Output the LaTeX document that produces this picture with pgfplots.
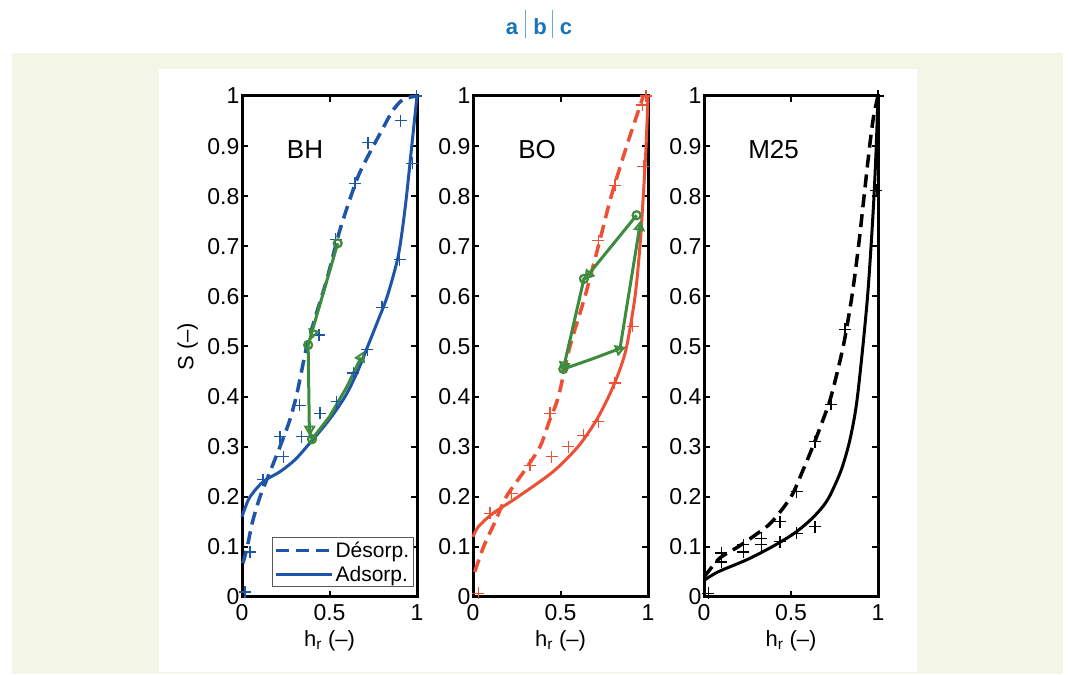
\documentclass[border=0pt]{standalone}
\usepackage{pgfplots}
\pgfplotsset{compat=1.18}
\usepackage{fontspec}
\setmainfont{Liberation Sans}
\definecolor{bggreen}{HTML}{F3F6E7}
\definecolor{ttlblue}{HTML}{1A73B8}
\definecolor{sepblue}{HTML}{6FA8DC}
\definecolor{cblue}{HTML}{1E55A8}
\definecolor{cred}{HTML}{EE5035}
\definecolor{cgreen}{HTML}{3D8B3D}
\pgfplotsset{
 panel/.style={
  scale only axis, height=501pt, anchor=south west,
  xmin=0,xmax=1,ymin=0,ymax=1,
  axis line style={line width=3pt},
  tick style={line width=2pt,black},
  major tick length=6pt, tick align=inside,
  xtick={0,0.5,1}, xticklabels={0,0.5,1},
  ytick={0,0.1,0.2,0.3,0.4,0.5,0.6,0.7,0.8,0.9,1},
  yticklabels={0,0.1,0.2,0.3,0.4,0.5,0.6,0.7,0.8,0.9,1},
  ticklabel style={font=\fontsize{23}{23}\selectfont, inner sep=2.5pt},
  xticklabel style={yshift=-5pt},
  label style={font=\fontsize{22}{22}\selectfont},
  xlabel={h\textsubscript{r} (–)},
  xlabel style={at={(axis description cs:0.5,-0.087)},anchor=center},
  clip=false,
 },
 dsh/.style={line width=3.5pt, dash pattern=on 13pt off 7pt, smooth},
 sld/.style={line width=3pt, smooth},
 pls/.style={only marks, mark=+, mark size=6pt, mark options={line width=1.2pt}},
 grn/.style={cgreen, line width=3pt, mark=none},
 grc/.style={cgreen, only marks, mark=o, mark size=4pt, mark options={line width=2.2pt}},
 grt/.style={cgreen, only marks, mark=triangle, mark size=5pt},
}
\begin{document}
\begin{tikzpicture}[x=1pt,y=1pt]
\fill[white] (0,0) rectangle (1069,675);
\fill[bggreen] (12,1) rectangle (1063,622);
\fill[white] (159,3) rectangle (917,606);
\node[font=\bfseries\fontsize{22}{22}\selectfont, text=ttlblue, anchor=base] at (512,640) {a};
\node[font=\bfseries\fontsize{22}{22}\selectfont, text=ttlblue, anchor=base] at (540,640) {b};
\node[font=\bfseries\fontsize{22}{22}\selectfont, text=ttlblue, anchor=base] at (566,640) {c};
\draw[sepblue, line width=1pt] (525,637) -- (525,665);
\draw[sepblue, line width=1pt] (552,637) -- (552,665);

% ---------- BH ----------
\begin{axis}[panel, at={(242pt,78pt)}, width=175pt,
  ylabel={S (–)},
  ylabel style={at={(axis description cs:-0.31,0.5)},anchor=center},
  legend cell align=left,
  legend image code/.code={\draw[#1] (0pt,0pt) -- (56pt,0pt);},
  legend style={at={(axis cs:0.98,0.02)},anchor=south east, draw=black!65,
    line width=0.8pt, fill=white, font=\fontsize{21}{21}\selectfont,
    inner sep=2pt, row sep=3pt}]
\addplot[cblue, dsh] coordinates {(0.005,0.067)(0.03,0.1)(0.06,0.15)(0.103,0.2)(0.16,0.25)(0.217,0.3)(0.27,0.35)(0.31,0.4)(0.34,0.45)(0.37,0.5)(0.42,0.56)(0.484,0.633)(0.56,0.733)(0.655,0.832)(0.72,0.88)(0.80,0.932)(0.86,0.97)(0.92,0.993)(1.0,1.0)};
\addlegendentry{Désorp.}
\addplot[cblue, sld] coordinates {(0,0.16)(0.015,0.175)(0.046,0.2)(0.12,0.23)(0.217,0.25)(0.3,0.273)(0.37,0.3)(0.49,0.35)(0.589,0.4)(0.66,0.45)(0.718,0.5)(0.775,0.55)(0.83,0.6)(0.888,0.673)(0.915,0.73)(0.94,0.8)(0.97,0.9)(1.0,1.0)};
\addlegendentry{Adsorp.}
\addplot[cblue, pls, forget plot] coordinates {(0.995,1.0)(0.907,0.951)(0.72,0.907)(0.646,0.826)(0.535,0.714)(0.973,0.866)(0.90,0.673)(0.80,0.578)(0.44,0.523)(0.716,0.494)(0.636,0.447)(0.54,0.39)(0.33,0.383)(0.446,0.367)(0.217,0.32)(0.34,0.32)(0.236,0.28)(0.12,0.234)(0.046,0.09)(0.017,0.01)};
\addplot[grn, forget plot] coordinates {(0.547,0.706)(0.378,0.503)(0.385,0.33)(0.40,0.315)(0.5,0.36)(0.6,0.42)(0.68,0.478)};
\addplot[grc, forget plot] coordinates {(0.547,0.706)(0.378,0.503)(0.40,0.315)};
\addplot[grt, mark options={rotate=164, line width=2pt}, forget plot] coordinates {(0.406,0.527)};
\addplot[grt, mark options={rotate=180, line width=2pt}, forget plot] coordinates {(0.387,0.335)};
\addplot[grt, mark options={rotate=-26, line width=2pt}, forget plot] coordinates {(0.68,0.478)};
\node[font=\fontsize{26}{26}\selectfont] at (axis cs:0.36,0.894) {BH};
\end{axis}

% ---------- BO ----------
\begin{axis}[panel, at={(473pt,78pt)}, width=175pt]
\addplot[cred, dsh] coordinates {(0.01,0.05)(0.06,0.1)(0.126,0.15)(0.19,0.2)(0.29,0.25)(0.383,0.3)(0.435,0.35)(0.488,0.4)(0.554,0.5)(0.64,0.6)(0.716,0.7)(0.79,0.8)(0.878,0.9)(0.935,0.96)(0.973,1.0)};
\addplot[cred, sld] coordinates {(0,0.12)(0.03,0.14)(0.114,0.167)(0.257,0.2)(0.457,0.25)(0.60,0.3)(0.70,0.35)(0.775,0.4)(0.835,0.45)(0.878,0.5)(0.926,0.6)(0.954,0.7)(0.973,0.8)(0.989,0.9)(1.0,1.0)};
\addplot[cred, pls] coordinates {(0.989,1.0)(0.968,0.982)(0.973,0.86)(0.811,0.822)(0.716,0.711)(0.913,0.54)(0.81,0.427)(0.716,0.35)(0.63,0.323)(0.545,0.30)(0.44,0.367)(0.45,0.28)(0.326,0.263)(0.221,0.207)(0.097,0.167)(0.03,0.007)};
\addplot[grn] coordinates {(0.935,0.762)(0.665,0.646)(0.634,0.635)(0.516,0.455)(0.68,0.475)(0.84,0.496)(0.954,0.742)};
\addplot[grc] coordinates {(0.935,0.762)(0.634,0.635)(0.516,0.455)};
\addplot[grt, mark options={rotate=141, line width=2pt}] coordinates {(0.66,0.643)};
\addplot[grt, mark options={rotate=167, line width=2pt}] coordinates {(0.52,0.462)};
\addplot[grt, mark options={rotate=-70, line width=2pt}] coordinates {(0.835,0.494)};
\addplot[grt, mark options={rotate=-9, line width=2pt}] coordinates {(0.952,0.738)};
\node[font=\fontsize{26}{26}\selectfont] at (axis cs:0.366,0.894) {BO};
\end{axis}

% ---------- M25 ----------
\begin{axis}[panel, at={(704pt,78pt)}, width=174pt]
\addplot[black, dsh] coordinates {(0,0.04)(0.023,0.05)(0.092,0.078)(0.195,0.1)(0.30,0.125)(0.39,0.15)(0.50,0.2)(0.565,0.25)(0.625,0.3)(0.68,0.35)(0.73,0.4)(0.80,0.5)(0.85,0.6)(0.888,0.7)(0.92,0.8)(0.952,0.9)(0.975,0.96)(1.0,1.0)};
\addplot[black, sld] coordinates {(0,0.033)(0.08,0.05)(0.25,0.075)(0.39,0.1)(0.51,0.125)(0.60,0.15)(0.67,0.175)(0.72,0.2)(0.785,0.25)(0.829,0.3)(0.86,0.35)(0.882,0.4)(0.913,0.5)(0.94,0.6)(0.96,0.7)(0.977,0.8)(0.99,0.9)(1.0,1.0)};
\addplot[black, pls] coordinates {(0.025,0.007)(0.10,0.088)(0.10,0.07)(0.226,0.104)(0.226,0.09)(0.33,0.117)(0.33,0.104)(0.437,0.15)(0.437,0.11)(0.533,0.127)(0.533,0.21)(0.638,0.14)(0.638,0.31)(0.73,0.385)(0.81,0.534)(0.99,0.812)(1.0,1.0)};
\node[font=\fontsize{26}{26}\selectfont] at (axis cs:0.40,0.894) {M25};
\end{axis}
\end{tikzpicture}
\end{document}
